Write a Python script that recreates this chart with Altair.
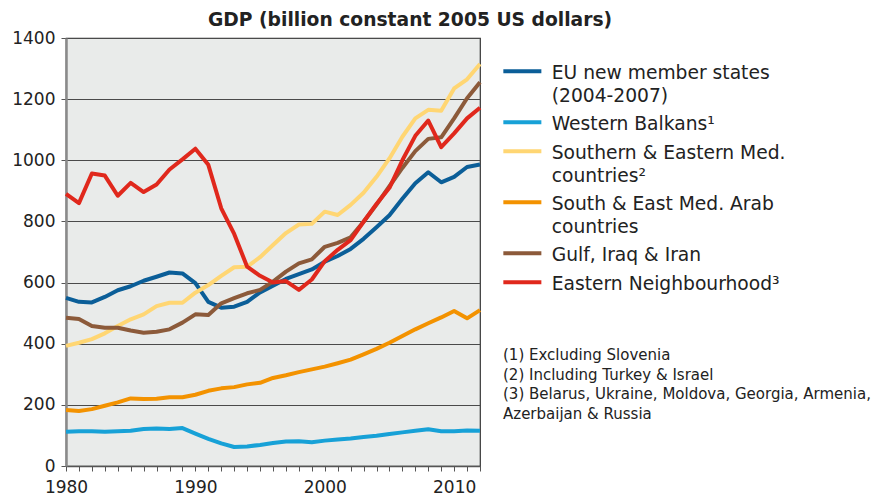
import altair as alt
import pandas as pd

years = list(range(1980, 2013))

series_names = [
    "EU new member states\n(2004-2007)",
    "Western Balkans¹",
    "Southern & Eastern Med.\ncountries²",
    "South & East Med. Arab\ncountries",
    "Gulf, Iraq & Iran",
    "Eastern Neighbourhood³",
]
series_colors = ["#0b5e98", "#17a1d7", "#ffd673", "#f39200", "#8c5a3a", "#e0281c"]

eu_new = [550, 537, 535, 553, 575, 588, 606, 619, 633, 630,
          598, 537, 518, 521, 537, 568, 590, 612, 628, 643,
          668, 687, 710, 743, 781, 820, 874, 925, 961, 928,
          946, 978, 986]
western_balkans = [112, 114, 114, 112, 114, 115, 121, 123, 121, 124,
                   106, 89, 74, 62, 64, 69, 75, 80, 81, 78,
                   83, 87, 90, 95, 99, 105, 110, 115, 120, 114,
                   114, 116, 115]
south_east_med = [393, 403, 415, 434, 458, 480, 496, 523, 534, 534,
                  567, 592, 622, 650, 652, 683, 723, 762, 790, 792,
                  832, 821, 854, 894, 946, 1006, 1077, 1137, 1165, 1162,
                  1235, 1265, 1315]
arab_med = [183, 180, 186, 197, 208, 221, 219, 220, 225, 225,
            233, 246, 254, 258, 267, 272, 288, 297, 307, 316,
            325, 336, 348, 365, 383, 403, 425, 447, 467, 486,
            507, 483, 510]
gulf = [485, 481, 458, 452, 452, 443, 436, 439, 447, 469,
        496, 494, 532, 549, 565, 576, 603, 636, 663, 676,
        717, 730, 748, 799, 855, 915, 975, 1030, 1070, 1075,
        1137, 1203, 1255]
eastern = [890, 860, 957, 950, 884, 926, 896, 921, 970, 1003,
           1038, 985, 843, 759, 652, 622, 600, 605, 576, 610,
           670, 707, 739, 799, 857, 910, 1000, 1080, 1130, 1043,
           1088, 1137, 1172]

footnotes = [
    "(1) Excluding Slovenia",
    "(2) Including Turkey & Israel",
    "(3) Belarus, Ukraine, Moldova, Georgia, Armenia,",
    "Azerbaijan & Russia",
]

all_values = [eu_new, western_balkans, south_east_med, arab_med, gulf, eastern]
rows = []
for name, vals in zip(series_names, all_values):
    for y, v in zip(years, vals):
        rows.append({"year": y, "gdp": v, "series": name})
df = pd.DataFrame(rows)

FONT = "DejaVu Sans"

lines = alt.Chart(df).mark_line(strokeWidth=4, strokeJoin="round").encode(
    x=alt.X("year:Q",
            scale=alt.Scale(domain=[1980, 2012], nice=False, zero=False),
            axis=alt.Axis(values=years, labelExpr="datum.value % 10 == 0 ? datum.value : ''",
                          format="d", title=None, grid=False, tickSize=5, labelPadding=8,
                          tickColor="#555555", domainColor="#555555", domainWidth=1.5,
                          labelFontSize=17, labelColor="#222222", labelFont=FONT,
                          labelOverlap=False, labelFlush=False)),
    y=alt.Y("gdp:Q",
            scale=alt.Scale(domain=[0, 1400], nice=False),
            axis=alt.Axis(values=[0, 200, 400, 600, 800, 1000, 1200, 1400], title=None,
                          format="d",
                          grid=True, gridColor="#4a4a4a", gridWidth=1.2,
                          tickSize=5, tickColor="#555555", labelPadding=6,
                          domainColor="#8a8a8a", domainWidth=2.5,
                          labelFontSize=17, labelColor="#222222", labelFont=FONT,
                          minExtent=58)),
    color=alt.Color("series:N",
                    scale=alt.Scale(domain=series_names, range=series_colors),
                    sort=series_names,
                    legend=alt.Legend(title=None, orient="none", legendX=447, legendY=17,
                                      symbolType="M-3.5,1.25H3.5", symbolSize=118,
                                      symbolStrokeWidth=4,
                                      labelOffset=20, labelFontSize=18.7, labelFont=FONT,
                                      labelColor="#222222", labelLimit=400,
                                      labelExpr="split(datum.label, '\\n')",
                                      labelBaseline="top", rowPadding=0)),
)

notes = alt.Chart(pd.DataFrame({"t": ["\n".join(footnotes)]})).mark_text(
    align="left", baseline="top", fontSize=15, font=FONT, color="#222222",
    lineBreak="\n", lineHeight=19.5
).encode(x=alt.value(437), y=alt.value(310), text="t:N")

chart = alt.layer(lines, notes).properties(
    width=414, height=428,
    padding={"left": 0, "top": 3, "right": 0, "bottom": 0},
    title=alt.TitleParams("GDP (billion constant 2005 US dollars)", fontSize=18.7,
                          fontWeight="bold", font=FONT, color="#222222",
                          anchor="start", dx=200, offset=-1),
).configure(
    background="white",
    style={"guide-label": {"lineHeight": 22.5}},
    view=alt.ViewConfig(fill="#e9ebea", stroke="#333333", strokeWidth=1.2),
)

chart.save("out.html", embed_options={"renderer": "svg", "actions": False})
